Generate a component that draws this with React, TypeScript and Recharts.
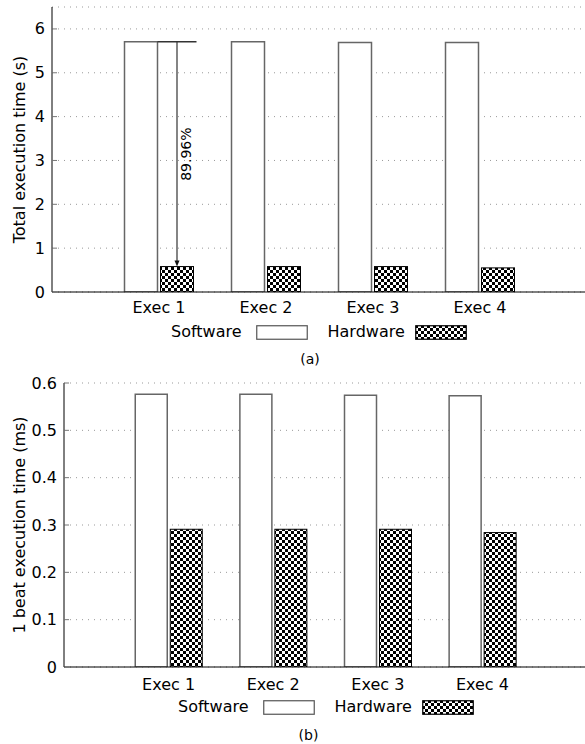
import { BarChart, Bar, XAxis, YAxis, CartesianGrid } from 'recharts'

const EXECS = ['Exec 1', 'Exec 2', 'Exec 3', 'Exec 4']
const SERIES = ['Software', 'Hardware']

// (a) total execution time, seconds
const TOTAL_SW = [5.71, 5.71, 5.69, 5.69]
const TOTAL_HW = [0.58, 0.58, 0.58, 0.55]
const TOTAL_TICKS = [0, 1, 2, 3, 4, 5, 6]

// (b) one beat execution time, ms
const BEAT_SW = [0.576, 0.576, 0.574, 0.573]
const BEAT_HW = [0.291, 0.291, 0.291, 0.284]
const BEAT_TICKS = [0, 0.1, 0.2, 0.3, 0.4, 0.5, 0.6]

const GAIN_LABEL = '89.96%'

const FONT = '"DejaVu Sans", sans-serif'
const GRID = '#999'
const TICK = '#777'

const totalRows = EXECS.map((name, i) => ({ name, Software: TOTAL_SW[i], Hardware: TOTAL_HW[i] }))
const beatRows = EXECS.map((name, i) => ({ name, Software: BEAT_SW[i], Hardware: BEAT_HW[i] }))

function Checker({ id }: { id: string }) {
  return (
    <pattern id={id} patternUnits="userSpaceOnUse" width={6} height={6}>
      <rect width={6} height={6} fill="#fff" />
      <rect width={3} height={3} fill="#000" />
      <rect x={3} y={3} width={3} height={3} fill="#000" />
    </pattern>
  )
}

const YTick = ({ x, y, payload }: any) => (
  <g>
    <line x1={x + 7} x2={x + 12} y1={y} y2={y} stroke={TICK} />
    <text x={x} y={y} textAnchor="end" dominantBaseline="central" fontSize={16} fill="#000" fontFamily={FONT}>
      {payload.value}
    </text>
  </g>
)

const axisTitle = (title: string) => ({ viewBox }: any) => {
  const cy = viewBox.y + viewBox.height / 2
  return (
    <text x={19} y={cy} transform={`rotate(-90 19 ${cy})`} textAnchor="middle" dominantBaseline="central"
      fontSize={16} fill="#000" fontFamily={FONT}>
      {title}
    </text>
  )
}

// hardware bar, with the reduction arrow drawn over the first group
const hardwareShape = (patternId: string, annotate: boolean) => (props: any) => {
  const { x, y, width, height, payload, index } = props
  const base = y + height
  const perUnit = height / payload.Hardware
  const swTop = base - payload.Software * perUnit
  const cx = x + width / 2
  return (
    <g>
      <rect x={x} y={y} width={width} height={height} fill={`url(#${patternId})`} stroke="#000" strokeWidth={1} />
      {annotate && index === 0 && (
        <g>
          <line x1={x - 3} x2={x + width + 3} y1={swTop} y2={swTop} stroke="#333" strokeWidth={1.5} />
          <line x1={cx} x2={cx} y1={swTop} y2={y - 5} stroke="#333" strokeWidth={1.2} />
          <polygon points={`${cx - 2.5},${y - 6} ${cx + 2.5},${y - 6} ${cx},${y}`} fill="#111" />
          <text x={cx + 9} y={(swTop + y) / 2} transform={`rotate(-90 ${cx + 9} ${(swTop + y) / 2})`}
            textAnchor="middle" dominantBaseline="central" fontSize={14} fill="#000" fontFamily={FONT}>
            {GAIN_LABEL}
          </text>
        </g>
      )}
    </g>
  )
}

function Swatch({ hatched, id }: { hatched: boolean; id: string }) {
  return (
    <svg width={52} height={15} style={{ display: 'block' }}>
      <defs><Checker id={id} /></defs>
      <rect x={0.75} y={0.75} width={50.5} height={13.5} fill={hatched ? `url(#${id})` : '#fff'}
        stroke={hatched ? '#000' : '#555'} strokeWidth={1.2} />
    </svg>
  )
}

function KeyRow({ left, top, tag }: { left: number; top: number; tag: string }) {
  return (
    <div style={{ position: 'absolute', left, top, display: 'flex', alignItems: 'center', fontFamily: FONT, fontSize: 16 }}>
      {SERIES.map((s, i) => (
        <div key={s} style={{ display: 'flex', alignItems: 'center', marginRight: 20 }}>
          <span style={{ marginRight: i === 0 ? 14 : 10, lineHeight: '16px' }}>{s}</span>
          <Swatch hatched={i === 1} id={`key-${tag}-${i}`} />
        </div>
      ))}
    </div>
  )
}

function Panel({ rows, ticks, domain, title, yWidth, top, height, barSize, pad, patternId, annotate, tickMargin }: any) {
  const padding = { left: pad, right: pad }
  return (
    <div style={{ position: 'absolute', left: 0, top }}>
      <BarChart width={587} height={height} data={rows} barSize={barSize} barGap={3}
        margin={{ top: annotate ? 7 : 23, right: 0, bottom: 0, left: 0 }} style={{ fontFamily: FONT }}>
        <defs><Checker id={patternId} /></defs>
        <CartesianGrid vertical={false} stroke={GRID} strokeDasharray="1 5" />
        <XAxis dataKey="name" padding={padding} tickSize={0} tickMargin={tickMargin}
          axisLine={{ stroke: '#000' }} tickLine={false} tick={{ fontSize: 16, fill: '#000' }} height={30} />
        <XAxis xAxisId="top" orientation="top" dataKey="name" padding={padding} mirror height={0} tickSize={5}
          axisLine={{ stroke: '#000' }} tickLine={{ stroke: TICK }} tick={() => null} />
        <YAxis domain={domain} ticks={ticks} width={yWidth} tickSize={0} tickMargin={7}
          axisLine={{ stroke: '#000' }} tickLine={false} tick={<YTick />} allowDataOverflow
          label={axisTitle(title)} />
        <Bar dataKey="Software" fill="#fff" stroke="#666" strokeWidth={1.5} isAnimationActive={false} />
        <Bar dataKey="Hardware" shape={hardwareShape(patternId, annotate)} isAnimationActive={false} />
      </BarChart>
    </div>
  )
}

export default function App() {
  return (
    <div style={{ position: 'absolute', left: 0, top: 0, width: 585, height: 744, overflow: 'hidden', background: '#fff' }}>
      <Panel rows={totalRows} ticks={TOTAL_TICKS} domain={[0, 6.5]} title="Total execution time (s)"
        yWidth={52} top={0} height={322} barSize={33} pad={53.5} patternId="chk-a" annotate tickMargin={10} />
      <KeyRow left={171} top={324} tag="a" />
      <div style={{ position: 'absolute', left: 0, width: 620, top: 351, textAlign: 'center', fontFamily: FONT, fontSize: 14 }}>(a)</div>

      <Panel rows={beatRows} ticks={BEAT_TICKS} domain={[0, 0.6]} title="1 beat execution time (ms)"
        yWidth={64} top={360} height={337} barSize={32} pad={52.25} patternId="chk-b" annotate={false} tickMargin={12} />
      <KeyRow left={178} top={699} tag="b" />
      <div style={{ position: 'absolute', left: 0, width: 617, top: 727, textAlign: 'center', fontFamily: FONT, fontSize: 14 }}>(b)</div>
    </div>
  )
}
